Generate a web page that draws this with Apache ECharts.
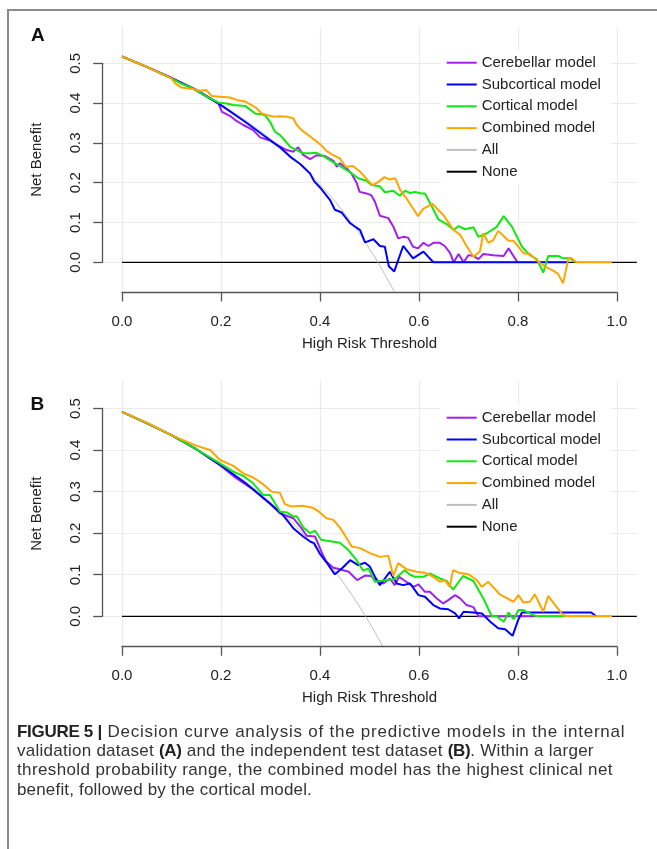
<!DOCTYPE html>
<html><head><meta charset="utf-8">
<script src="https://cdn.jsdelivr.net/npm/echarts@6/dist/echarts.min.js"></script>
<style>
html,body{margin:0;padding:0;background:#fff;}
#wrap{position:relative;width:657px;height:849px;overflow:hidden;background:#fff;}
#chart{position:absolute;left:0;top:0;width:657px;height:849px;}
#frame{position:absolute;left:7px;top:9px;width:700px;height:900px;border-top:2px solid #8a8a8a;border-left:2px solid #8a8a8a;pointer-events:none;}
#caption{position:absolute;left:17px;top:722px;font-family:'Liberation Sans',Arial,sans-serif;font-size:17px;line-height:19.2px;color:#333;white-space:nowrap;}
#caption span{display:block;}
#caption b{color:#222;letter-spacing:-0.3px;}
</style></head>
<body>
<div id="wrap">
<div id="chart"></div>
<div id="frame"></div>
<div id="caption"><span style="letter-spacing:0.77px"><b>FIGURE 5 |</b> Decision curve analysis of the predictive models in the internal</span><span style="letter-spacing:0.26px">validation dataset <b>(A)</b> and the independent test dataset <b>(B)</b>. Within a larger</span><span style="letter-spacing:0.38px">threshold probability range, the combined model has the highest clinical net</span><span style="letter-spacing:0.17px">benefit, followed by the cortical model.</span></div>
</div>
<script>
// ---------- tick labels / names ----------
const ticksX = [0, 0.2, 0.4, 0.6, 0.8, 1.0];
const ticksY = [0, 0.1, 0.2, 0.3, 0.4, 0.5];
const seriesNames = ['Cerebellar model', 'Subcortical model', 'Cortical model', 'Combined model', 'All', 'None'];
const xTitle = 'High Risk Threshold';
const yTitle = 'Net Benefit';

// ---------- Panel A (internal validation) : [threshold, net benefit] ----------
const aCerebellar = [[0,0.517],[0.05,0.491],[0.10,0.463],[0.15,0.434],[0.19,0.404],[0.195,0.399],[0.202,0.378],[0.218,0.368],[0.228,0.358],[0.245,0.345],[0.265,0.332],[0.279,0.314],[0.299,0.306],[0.313,0.295],[0.333,0.282],[0.346,0.278],[0.356,0.289],[0.366,0.270],[0.380,0.259],[0.393,0.269],[0.410,0.267],[0.427,0.255],[0.434,0.240],[0.440,0.249],[0.454,0.236],[0.464,0.222],[0.474,0.200],[0.480,0.177],[0.494,0.173],[0.504,0.168],[0.511,0.152],[0.521,0.117],[0.538,0.111],[0.548,0.090],[0.558,0.060],[0.568,0.064],[0.578,0.062],[0.588,0.039],[0.598,0.035],[0.609,0.049],[0.619,0.041],[0.629,0.049],[0.642,0.049],[0.652,0.041],[0.663,0.023],[0.670,0.000],[0.680,0.021],[0.690,0.000],[0.700,0.018],[0.710,0.016],[0.720,0.008],[0.730,0.021],[0.750,0.018],[0.771,0.016],[0.781,0.035],[0.798,0.002],[0.80,0.000]];
const aSubcortical = [[0,0.517],[0.05,0.491],[0.10,0.463],[0.15,0.432],[0.20,0.395],[0.25,0.352],[0.30,0.306],[0.32,0.288],[0.34,0.265],[0.36,0.247],[0.38,0.223],[0.388,0.204],[0.400,0.188],[0.420,0.157],[0.430,0.132],[0.444,0.125],[0.461,0.098],[0.481,0.081],[0.491,0.050],[0.508,0.058],[0.521,0.041],[0.531,0.039],[0.539,-0.010],[0.550,-0.023],[0.568,0.041],[0.588,0.010],[0.609,0.027],[0.629,0.000],[0.902,0.000]];
const aCortical = [[0,0.517],[0.05,0.491],[0.10,0.462],[0.118,0.450],[0.138,0.440],[0.158,0.426],[0.178,0.412],[0.195,0.401],[0.212,0.399],[0.225,0.395],[0.249,0.393],[0.269,0.374],[0.289,0.370],[0.299,0.353],[0.309,0.328],[0.319,0.320],[0.329,0.306],[0.340,0.290],[0.353,0.282],[0.366,0.274],[0.380,0.274],[0.393,0.275],[0.407,0.267],[0.427,0.251],[0.440,0.242],[0.461,0.226],[0.477,0.211],[0.494,0.205],[0.504,0.194],[0.521,0.191],[0.531,0.176],[0.548,0.180],[0.561,0.167],[0.572,0.180],[0.582,0.174],[0.592,0.177],[0.605,0.173],[0.612,0.173],[0.626,0.140],[0.639,0.108],[0.656,0.096],[0.670,0.081],[0.680,0.091],[0.693,0.083],[0.710,0.088],[0.720,0.064],[0.737,0.073],[0.757,0.089],[0.771,0.116],[0.788,0.089],[0.808,0.039],[0.824,0.018],[0.838,0.008],[0.851,-0.026],[0.861,0.016],[0.881,0.016],[0.891,0.010],[0.905,0.010],[0.915,0.000]];
const aCombined = [[0,0.517],[0.05,0.491],[0.10,0.462],[0.107,0.450],[0.12,0.439],[0.146,0.435],[0.158,0.431],[0.17,0.433],[0.181,0.418],[0.198,0.416],[0.218,0.414],[0.232,0.408],[0.249,0.404],[0.262,0.395],[0.272,0.387],[0.282,0.374],[0.292,0.370],[0.306,0.366],[0.319,0.367],[0.333,0.366],[0.346,0.362],[0.353,0.345],[0.363,0.332],[0.380,0.316],[0.400,0.297],[0.413,0.280],[0.427,0.269],[0.440,0.261],[0.452,0.240],[0.466,0.242],[0.481,0.228],[0.496,0.207],[0.506,0.194],[0.518,0.202],[0.530,0.214],[0.540,0.208],[0.552,0.211],[0.562,0.182],[0.574,0.162],[0.587,0.137],[0.598,0.116],[0.609,0.135],[0.627,0.147],[0.649,0.119],[0.670,0.081],[0.683,0.069],[0.697,0.039],[0.710,0.014],[0.723,0.027],[0.730,0.073],[0.740,0.049],[0.750,0.056],[0.760,0.079],[0.781,0.054],[0.791,0.054],[0.801,0.039],[0.811,0.023],[0.824,0.021],[0.841,0.002],[0.855,-0.011],[0.871,-0.021],[0.881,-0.029],[0.891,-0.053],[0.902,0.010],[0.908,0.010],[0.918,0.000],[0.990,0.000]];
const aAll = [[0,0.517],[0.05,0.492],[0.10,0.463],[0.15,0.432],[0.20,0.396],[0.25,0.356],[0.30,0.310],[0.35,0.257],[0.40,0.195],[0.45,0.122],[0.50,0.034],[0.55,-0.073],[0.56,-0.097]];
const aNone = [[0,0],[1.04,0]];

// ---------- Panel B (independent test) ----------
const bCerebellar = [[0,0.492],[0.05,0.465],[0.10,0.436],[0.15,0.402],[0.20,0.362],[0.23,0.333],[0.265,0.305],[0.30,0.270],[0.319,0.248],[0.346,0.236],[0.360,0.216],[0.373,0.194],[0.390,0.192],[0.403,0.155],[0.413,0.131],[0.427,0.117],[0.440,0.113],[0.458,0.107],[0.475,0.087],[0.491,0.098],[0.503,0.097],[0.513,0.087],[0.528,0.079],[0.541,0.091],[0.551,0.075],[0.560,0.095],[0.572,0.085],[0.589,0.071],[0.599,0.077],[0.612,0.059],[0.622,0.059],[0.636,0.043],[0.649,0.031],[0.659,0.039],[0.673,0.051],[0.683,0.043],[0.696,0.027],[0.710,0.022],[0.720,0.000],[0.835,0.000]];
const bSubcortical = [[0,0.492],[0.05,0.465],[0.10,0.436],[0.15,0.402],[0.20,0.363],[0.25,0.320],[0.30,0.270],[0.325,0.244],[0.346,0.212],[0.366,0.192],[0.380,0.180],[0.388,0.176],[0.400,0.150],[0.413,0.130],[0.430,0.101],[0.444,0.115],[0.461,0.135],[0.477,0.123],[0.491,0.129],[0.501,0.119],[0.511,0.095],[0.521,0.075],[0.531,0.091],[0.541,0.107],[0.555,0.079],[0.568,0.075],[0.582,0.079],[0.599,0.051],[0.612,0.047],[0.629,0.027],[0.642,0.019],[0.659,0.017],[0.673,0.007],[0.681,-0.005],[0.690,0.011],[0.710,0.009],[0.727,0.007],[0.744,-0.013],[0.760,-0.029],[0.774,-0.031],[0.789,-0.047],[0.801,-0.007],[0.808,0.009],[0.948,0.009],[0.958,0.000]];
const bCortical = [[0,0.492],[0.05,0.465],[0.10,0.436],[0.15,0.402],[0.198,0.368],[0.225,0.348],[0.245,0.338],[0.265,0.320],[0.285,0.292],[0.299,0.292],[0.319,0.252],[0.333,0.250],[0.346,0.240],[0.353,0.241],[0.366,0.214],[0.380,0.200],[0.390,0.206],[0.402,0.184],[0.424,0.180],[0.440,0.177],[0.457,0.160],[0.474,0.135],[0.487,0.110],[0.498,0.115],[0.511,0.083],[0.531,0.087],[0.551,0.090],[0.571,0.111],[0.582,0.100],[0.592,0.095],[0.609,0.095],[0.622,0.103],[0.642,0.091],[0.656,0.085],[0.669,0.064],[0.689,0.097],[0.710,0.085],[0.730,0.043],[0.747,0.000],[0.757,0.000],[0.771,-0.013],[0.781,0.009],[0.791,-0.007],[0.801,0.015],[0.811,0.015],[0.824,0.007],[0.838,0.000],[0.898,0.000]];
const bCombined = [[0,0.492],[0.05,0.466],[0.10,0.436],[0.151,0.410],[0.178,0.400],[0.198,0.376],[0.225,0.362],[0.245,0.344],[0.265,0.334],[0.285,0.318],[0.302,0.300],[0.319,0.297],[0.329,0.270],[0.343,0.264],[0.363,0.266],[0.386,0.261],[0.400,0.250],[0.413,0.236],[0.427,0.232],[0.440,0.214],[0.454,0.188],[0.464,0.168],[0.481,0.164],[0.501,0.152],[0.521,0.143],[0.538,0.146],[0.548,0.097],[0.558,0.128],[0.575,0.113],[0.595,0.107],[0.612,0.105],[0.626,0.097],[0.643,0.083],[0.652,0.087],[0.662,0.071],[0.669,0.111],[0.683,0.104],[0.700,0.101],[0.716,0.088],[0.727,0.071],[0.740,0.083],[0.763,0.053],[0.791,0.035],[0.801,0.051],[0.811,0.033],[0.824,0.035],[0.834,0.053],[0.851,0.011],[0.861,0.049],[0.875,0.027],[0.891,0.003],[0.898,0.000],[0.990,0.000]];
const bAll = [[0,0.492],[0.05,0.465],[0.10,0.436],[0.15,0.402],[0.20,0.365],[0.25,0.323],[0.30,0.274],[0.35,0.218],[0.40,0.153],[0.45,0.076],[0.50,-0.016],[0.53,-0.081]];
const bNone = [[0,0],[1.04,0]];

// ---------- styling ----------
const colors = ['#A020F0', '#0000FF', '#11E811', '#FFA500', '#BEBEBE', '#000000'];
const widths = [2, 2, 2, 2, 1, 1.3];
const FONT = "'Liberation Sans', Arial, sans-serif";
const TXT = '#222';
const AX = '#555';

// layout: pixel position of threshold 0 and 1 (x), of NB 0 and 0.5 (y), plot-region extent
const X0 = 122, X1 = 617;
const XMIN = -0.04, XMAX = 1.04;
const panels = [
  {label: 'A', labelLeft: 31, labelTop: 26, y0: 262.3, y5: 63.3, top: 27, bottom: 292.5, legendTop: 51.8,
   data: [aCerebellar, aSubcortical, aCortical, aCombined, aAll, aNone]},
  {label: 'B', labelLeft: 30.5, labelTop: 395.5, y0: 616.3, y5: 408.5, top: 380.7, bottom: 646.7, legendTop: 406.8,
   data: [bCerebellar, bSubcortical, bCortical, bCombined, bAll, bNone]}
];

const option = {
  animation: false,
  backgroundColor: '#fff',
  textStyle: {fontFamily: FONT},
  title: [], legend: [], grid: [], xAxis: [], yAxis: [], series: []
};

panels.forEach((p, i) => {
  const ppu = (p.y0 - p.y5) / 0.5;           // pixels per NB unit
  const ymax = (p.y0 - p.top) / ppu;
  const ymin = (p.y0 - p.bottom) / ppu;
  const fullLeft = X0 + XMIN * (X1 - X0);
  const fullWidth = (XMAX - XMIN) * (X1 - X0);
  const gAxis = 2 * i, gFull = 2 * i + 1;

  option.title.push({text: p.label, left: p.labelLeft, top: p.labelTop, padding: 0,
    textStyle: {fontSize: 19, fontWeight: 'bold', color: '#111', fontFamily: FONT, lineHeight: 19}});

  // axis grid: spans data range 0..1 and 0..0.5 (R style axis lines)
  option.grid.push({left: X0, top: p.y5, width: X1 - X0, height: p.y0 - p.y5, containLabel: false});
  // full plot region grid
  option.grid.push({left: fullLeft, top: p.top, width: fullWidth, height: p.bottom - p.top, containLabel: false});

  option.xAxis.push({
    type: 'value', gridIndex: gAxis, min: 0, max: 1, interval: 0.2, position: 'bottom',
    offset: p.bottom - p.y0, z: 5,
    axisLine: {show: true, onZero: false, lineStyle: {color: AX, width: 1.3}},
    axisTick: {show: true, length: 9, lineStyle: {color: AX, width: 1.3}},
    axisLabel: {show: true, margin: 22, fontSize: 15, color: TXT, fontFamily: FONT, formatter: v => v.toFixed(1)},
    splitLine: {show: false}
  });
  option.yAxis.push({
    type: 'value', gridIndex: gAxis, min: 0, max: 0.5, interval: 0.1, position: 'left',
    offset: X0 - fullLeft, z: 5,
    axisLine: {show: true, onZero: false, lineStyle: {color: AX, width: 1.3}},
    axisTick: {show: true, length: 9, lineStyle: {color: AX, width: 1.3}},
    axisLabel: {show: true, margin: 19, rotate: 90, fontSize: 15, color: TXT, fontFamily: FONT, formatter: v => v.toFixed(1)},
    splitLine: {show: false}
  });
  option.xAxis.push({
    type: 'value', gridIndex: gFull, min: XMIN, max: XMAX,
    axisLine: {show: false, onZero: false}, axisTick: {show: false}, axisLabel: {show: false}, splitLine: {show: false},
    name: xTitle, nameLocation: 'middle', nameGap: 51,
    nameTextStyle: {fontSize: 15, color: TXT, fontFamily: FONT, verticalAlign: 'middle'}
  });
  option.yAxis.push({
    type: 'value', gridIndex: gFull, min: ymin, max: ymax,
    axisLine: {show: false, onZero: false}, axisTick: {show: false}, axisLabel: {show: false}, splitLine: {show: false},
    name: yTitle, nameLocation: 'middle', nameGap: 65,
    nameTextStyle: {fontSize: 15, color: TXT, fontFamily: FONT, verticalAlign: 'middle'}
  });

  // background grid lines at the tick values
  option.series.push({
    type: 'line', xAxisIndex: gFull, yAxisIndex: gFull, data: [[XMIN, ymin]], showSymbol: false,
    lineStyle: {width: 0}, silent: true, z: 0,
    markLine: {
      z: 0, silent: true, symbol: ['none', 'none'], label: {show: false}, animation: false,
      lineStyle: {color: '#EBEBEB', width: 1.2, type: 'solid'},
      emphasis: {disabled: true},
      data: ticksX.map(v => ({xAxis: v})).concat(ticksY.map(v => ({yAxis: v})))
    }
  });

  // draw order: None, All, then the models
  [5, 4, 0, 1, 2, 3].forEach(k => {
    option.series.push({
      name: seriesNames[k], type: 'line', xAxisIndex: gFull, yAxisIndex: gFull,
      data: p.data[k], showSymbol: false, symbol: 'none', smooth: k === 4, clip: true,
      color: colors[k], lineStyle: {color: colors[k], width: widths[k]},
      emphasis: {disabled: true}, z: 2
    });
  });

  option.legend.push({
    orient: 'vertical', left: 446.7 - 6, top: p.legendTop - 2, padding: [2, 10, 2, 6], itemGap: 0,
    backgroundColor: '#fff', z: 10,
    itemWidth: 30, itemHeight: 2, icon: 'rect', selectedMode: false,
    textStyle: {fontSize: 15, lineHeight: 21.8, color: TXT, fontFamily: FONT},
    data: seriesNames.map((n, k) => ({name: n, itemStyle: {color: colors[k]}}))
  });
});

const chart = echarts.init(document.getElementById('chart'), null, {renderer: 'canvas'});
chart.setOption(option);
</script>
</body></html>
